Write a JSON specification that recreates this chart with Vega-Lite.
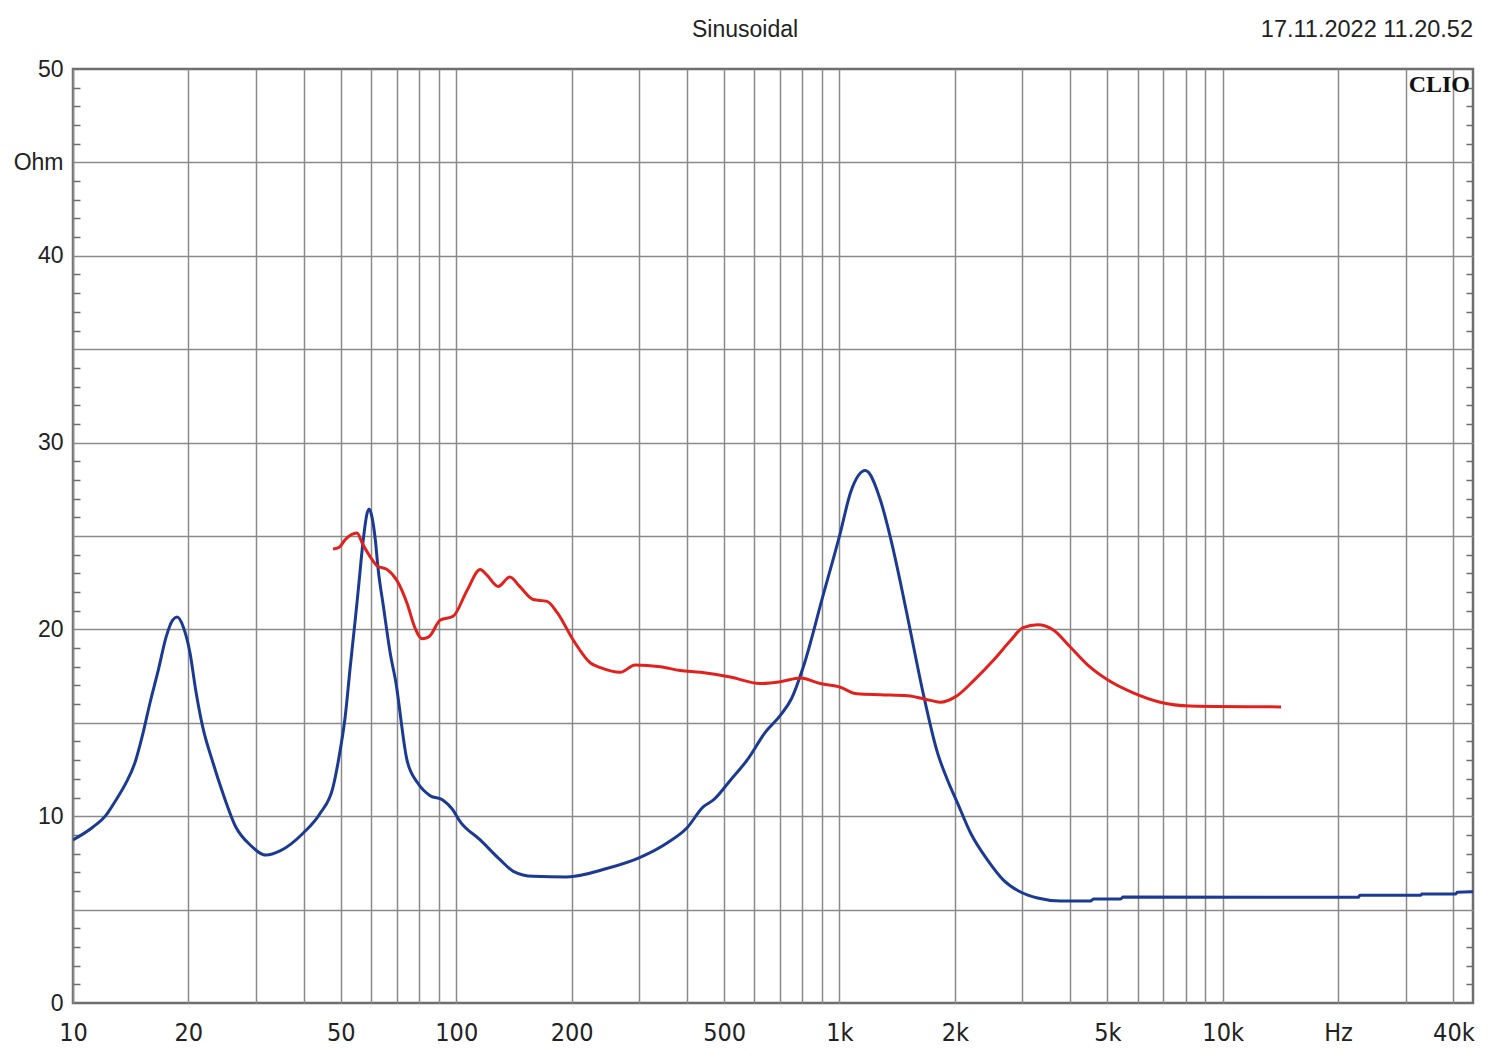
{
  "$schema": "https://vega.github.io/schema/vega-lite/v6.json",
  "width": 1400,
  "height": 934,
  "autosize": {"type": "none"},
  "padding": {"left": 73, "top": 69, "right": 27, "bottom": 60},
  "background": "white",
  "config": {
    "view": {"stroke": "#6e6e6e", "strokeWidth": 2.5},
    "font": "Liberation Sans"
  },
  "datasets": {
    "imp": [
      {"s": "blue", "f": 10, "z": 8.73},
      {"s": "blue", "f": 11.28, "z": 9.42},
      {"s": "blue", "f": 12.2, "z": 10.06},
      {"s": "blue", "f": 12.95, "z": 10.87},
      {"s": "blue", "f": 13.75, "z": 11.78},
      {"s": "blue", "f": 14.5, "z": 12.85},
      {"s": "blue", "f": 15.23, "z": 14.45},
      {"s": "blue", "f": 15.88, "z": 16.06},
      {"s": "blue", "f": 16.7, "z": 17.83},
      {"s": "blue", "f": 17.5, "z": 19.6},
      {"s": "blue", "f": 18.2, "z": 20.5},
      {"s": "blue", "f": 18.7, "z": 20.66},
      {"s": "blue", "f": 19.4, "z": 20.13},
      {"s": "blue", "f": 20.2, "z": 18.74},
      {"s": "blue", "f": 20.9, "z": 16.76},
      {"s": "blue", "f": 21.8, "z": 14.78},
      {"s": "blue", "f": 23.2, "z": 12.85},
      {"s": "blue", "f": 24.6, "z": 11.24},
      {"s": "blue", "f": 26.6, "z": 9.42},
      {"s": "blue", "f": 29, "z": 8.46},
      {"s": "blue", "f": 31.9, "z": 7.92},
      {"s": "blue", "f": 34.7, "z": 8.14},
      {"s": "blue", "f": 39.9, "z": 9.1},
      {"s": "blue", "f": 44.2, "z": 10.17},
      {"s": "blue", "f": 47.7, "z": 11.56},
      {"s": "blue", "f": 49.8, "z": 13.54},
      {"s": "blue", "f": 51.3, "z": 15.3},
      {"s": "blue", "f": 52.9, "z": 18.0},
      {"s": "blue", "f": 54.5, "z": 20.5},
      {"s": "blue", "f": 55.5, "z": 22.1},
      {"s": "blue", "f": 57.2, "z": 24.8},
      {"s": "blue", "f": 58.5, "z": 26.2},
      {"s": "blue", "f": 59.3, "z": 26.45},
      {"s": "blue", "f": 60.3, "z": 26.0},
      {"s": "blue", "f": 61.5, "z": 24.8},
      {"s": "blue", "f": 62.5, "z": 23.3},
      {"s": "blue", "f": 64.6, "z": 21.2},
      {"s": "blue", "f": 67.3, "z": 18.7},
      {"s": "blue", "f": 69.4, "z": 17.3},
      {"s": "blue", "f": 74.4, "z": 13.0},
      {"s": "blue", "f": 79.2, "z": 11.8},
      {"s": "blue", "f": 85.5, "z": 11.1},
      {"s": "blue", "f": 92.2, "z": 10.87},
      {"s": "blue", "f": 97.5, "z": 10.4},
      {"s": "blue", "f": 102.5, "z": 9.7},
      {"s": "blue", "f": 115.5, "z": 8.73},
      {"s": "blue", "f": 130.3, "z": 7.66},
      {"s": "blue", "f": 140.9, "z": 7.05},
      {"s": "blue", "f": 158.8, "z": 6.78},
      {"s": "blue", "f": 194, "z": 6.75},
      {"s": "blue", "f": 247, "z": 7.2},
      {"s": "blue", "f": 302, "z": 7.8},
      {"s": "blue", "f": 355, "z": 8.57},
      {"s": "blue", "f": 401, "z": 9.4},
      {"s": "blue", "f": 441, "z": 10.5},
      {"s": "blue", "f": 469, "z": 10.87},
      {"s": "blue", "f": 520, "z": 11.94},
      {"s": "blue", "f": 574, "z": 13.0},
      {"s": "blue", "f": 641, "z": 14.5},
      {"s": "blue", "f": 701, "z": 15.4},
      {"s": "blue", "f": 750, "z": 16.3},
      {"s": "blue", "f": 805, "z": 18.0},
      {"s": "blue", "f": 903, "z": 21.7},
      {"s": "blue", "f": 1006, "z": 25.2},
      {"s": "blue", "f": 1068, "z": 27.3},
      {"s": "blue", "f": 1169, "z": 28.5},
      {"s": "blue", "f": 1280, "z": 26.9},
      {"s": "blue", "f": 1359, "z": 24.9},
      {"s": "blue", "f": 1443, "z": 22.5},
      {"s": "blue", "f": 1532, "z": 19.9},
      {"s": "blue", "f": 1657, "z": 16.5},
      {"s": "blue", "f": 1802, "z": 13.4},
      {"s": "blue", "f": 1914, "z": 11.94},
      {"s": "blue", "f": 2033, "z": 10.7},
      {"s": "blue", "f": 2199, "z": 9.1},
      {"s": "blue", "f": 2433, "z": 7.66},
      {"s": "blue", "f": 2679, "z": 6.58},
      {"s": "blue", "f": 2969, "z": 5.94},
      {"s": "blue", "f": 3289, "z": 5.62},
      {"s": "blue", "f": 3776, "z": 5.46},
      {"s": "blue", "f": 4522, "z": 5.46},
      {"s": "blue", "f": 4600, "z": 5.57},
      {"s": "blue", "f": 5416, "z": 5.57},
      {"s": "blue", "f": 5500, "z": 5.67},
      {"s": "blue", "f": 22600, "z": 5.66},
      {"s": "blue", "f": 22800, "z": 5.77},
      {"s": "blue", "f": 32900, "z": 5.77},
      {"s": "blue", "f": 33100, "z": 5.84},
      {"s": "blue", "f": 40600, "z": 5.84},
      {"s": "blue", "f": 40900, "z": 5.93},
      {"s": "blue", "f": 45000, "z": 5.95},
      {"s": "red", "f": 47.7, "z": 24.3},
      {"s": "red", "f": 49.5, "z": 24.4},
      {"s": "red", "f": 51.3, "z": 24.8},
      {"s": "red", "f": 55.1, "z": 25.16},
      {"s": "red", "f": 56.9, "z": 24.6},
      {"s": "red", "f": 59.6, "z": 23.9},
      {"s": "red", "f": 62.2, "z": 23.4},
      {"s": "red", "f": 66.1, "z": 23.2},
      {"s": "red", "f": 70.1, "z": 22.6},
      {"s": "red", "f": 74.4, "z": 21.4},
      {"s": "red", "f": 78, "z": 20.1},
      {"s": "red", "f": 81.5, "z": 19.5},
      {"s": "red", "f": 84.8, "z": 19.6},
      {"s": "red", "f": 90.9, "z": 20.5},
      {"s": "red", "f": 98.1, "z": 20.7},
      {"s": "red", "f": 106.8, "z": 22.1},
      {"s": "red", "f": 115.5, "z": 23.2},
      {"s": "red", "f": 120.3, "z": 22.9},
      {"s": "red", "f": 128.7, "z": 22.3},
      {"s": "red", "f": 138, "z": 22.8},
      {"s": "red", "f": 146.4, "z": 22.3},
      {"s": "red", "f": 158.8, "z": 21.6},
      {"s": "red", "f": 172.6, "z": 21.5},
      {"s": "red", "f": 183.5, "z": 20.9},
      {"s": "red", "f": 202.4, "z": 19.4},
      {"s": "red", "f": 224, "z": 18.2},
      {"s": "red", "f": 238, "z": 17.95},
      {"s": "red", "f": 268, "z": 17.7},
      {"s": "red", "f": 293, "z": 18.1},
      {"s": "red", "f": 341, "z": 18.0},
      {"s": "red", "f": 384, "z": 17.8},
      {"s": "red", "f": 434, "z": 17.7},
      {"s": "red", "f": 519, "z": 17.45},
      {"s": "red", "f": 620, "z": 17.1},
      {"s": "red", "f": 701, "z": 17.2},
      {"s": "red", "f": 791, "z": 17.4},
      {"s": "red", "f": 891, "z": 17.1},
      {"s": "red", "f": 1005, "z": 16.9},
      {"s": "red", "f": 1112, "z": 16.55},
      {"s": "red", "f": 1280, "z": 16.5},
      {"s": "red", "f": 1506, "z": 16.45},
      {"s": "red", "f": 1729, "z": 16.2},
      {"s": "red", "f": 1836, "z": 16.1},
      {"s": "red", "f": 2010, "z": 16.4},
      {"s": "red", "f": 2250, "z": 17.3},
      {"s": "red", "f": 2536, "z": 18.4},
      {"s": "red", "f": 2795, "z": 19.4},
      {"s": "red", "f": 3016, "z": 20.1},
      {"s": "red", "f": 3289, "z": 20.25},
      {"s": "red", "f": 3615, "z": 19.97},
      {"s": "red", "f": 4003, "z": 19.06},
      {"s": "red", "f": 4441, "z": 18.1},
      {"s": "red", "f": 5008, "z": 17.3},
      {"s": "red", "f": 5843, "z": 16.6},
      {"s": "red", "f": 6870, "z": 16.1},
      {"s": "red", "f": 8218, "z": 15.9},
      {"s": "red", "f": 14200, "z": 15.85}
    ],
    "labels": [
      {"stamp": "17.11.2022 11.20.52", "brand": "CLIO", "head": "Sinusoidal"}
    ]
  },
  "resolve": {"scale": {"y": "shared", "x": "shared"}, "axis": {"y": "independent"}},
  "layer": [
    {
      "data": {"name": "imp"},
      "transform": [{"filter": "datum.s === 'blue'"}],
      "mark": {"type": "line", "color": "#1b3a93", "strokeWidth": 3, "clip": true, "interpolate": "monotone"},
      "encoding": {
        "x": {
          "field": "f",
          "type": "quantitative",
          "scale": {"type": "log", "domain": [10, 45000], "nice": false},
          "axis": {
            "title": null,
            "orient": "bottom",
            "domain": false,
            "ticks": false,
            "grid": true,
            "gridColor": "#8a8a8a",
            "gridWidth": 1.5,
            "values": [10, 20, 30, 40, 50, 60, 70, 80, 90, 100, 200, 300, 400, 500, 600, 700, 800, 900, 1000, 2000, 3000, 4000, 5000, 6000, 7000, 8000, 9000, 10000, 20000, 30000, 40000],
            "labelExpr": "datum.value == 10 ? '10' : datum.value == 20 ? '20' : datum.value == 50 ? '50' : datum.value == 100 ? '100' : datum.value == 200 ? '200' : datum.value == 500 ? '500' : datum.value == 1000 ? '1k' : datum.value == 2000 ? '2k' : datum.value == 5000 ? '5k' : datum.value == 10000 ? '10k' : datum.value == 20000 ? 'Hz' : datum.value == 40000 ? '40k' : ''",
            "labelFlush": false,
            "labelOverlap": false,
            "labelFont": "DejaVu Sans Condensed, Liberation Sans, sans-serif",
            "labelFontSize": 25,
            "labelColor": "#222222",
            "labelPadding": 17,
            "labelBaseline": "top"
          }
        },
        "y": {
          "field": "z",
          "type": "quantitative",
          "scale": {"domain": [0, 50], "nice": false},
          "axis": {
            "title": null,
            "orient": "left",
            "domain": false,
            "values": [0,1,2,3,4,5,6,7,8,9,10,11,12,13,14,15,16,17,18,19,20,21,22,23,24,25,26,27,28,29,30,31,32,33,34,35,36,37,38,39,40,41,42,43,44,45,46,47,48,49,50],
            "grid": true,
            "gridColor": "#8a8a8a",
            "gridWidth": 1.5,
            "gridOpacity": {"condition": {"test": "datum.value % 5 === 0 && datum.value > 0 && datum.value < 50", "value": 1}, "value": 0},
            "ticks": true,
            "tickSize": -7,
            "tickColor": "#6e6e6e",
            "tickWidth": 1.5,
            "tickOpacity": {"condition": {"test": "datum.value % 5 === 0", "value": 0}, "value": 1},
            "labelExpr": "datum.value % 10 === 0 ? datum.value + '' : datum.value === 45 ? 'Ohm' : ''",
            "labelOverlap": false,
            "labelFont": "Liberation Sans",
            "labelFontSize": 23,
            "labelColor": "#222222",
            "labelPadding": 17
          }
        }
      }
    },
    {
      "data": {"name": "imp"},
      "transform": [{"filter": "datum.s === 'red'"}],
      "mark": {"type": "line", "color": "#e3211c", "strokeWidth": 3, "clip": true, "interpolate": "monotone"},
      "encoding": {
        "x": {
          "field": "f",
          "type": "quantitative",
          "scale": {"type": "log", "domain": [10, 45000], "nice": false}
        },
        "y": {
          "field": "z",
          "type": "quantitative",
          "scale": {"domain": [0, 50], "nice": false},
          "axis": {
            "title": null,
            "orient": "right",
            "domain": false,
            "grid": false,
            "values": [0,1,2,3,4,5,6,7,8,9,10,11,12,13,14,15,16,17,18,19,20,21,22,23,24,25,26,27,28,29,30,31,32,33,34,35,36,37,38,39,40,41,42,43,44,45,46,47,48,49,50],
            "ticks": true,
            "tickSize": -7,
            "tickColor": "#6e6e6e",
            "tickWidth": 1.5,
            "tickOpacity": {"condition": {"test": "datum.value % 5 === 0", "value": 0}, "value": 1},
            "labels": false
          }
        }
      }
    },
    {
      "data": {"name": "labels"},
      "mark": {"type": "text", "align": "right", "baseline": "alphabetic", "font": "Liberation Sans", "fontSize": 23.5, "color": "#222222"},
      "encoding": {
        "x": {"datum": 45000, "type": "quantitative"},
        "y": {"datum": 51.72, "type": "quantitative", "axis": null},
        "text": {"field": "stamp"}
      }
    },
    {
      "data": {"name": "labels"},
      "mark": {"type": "text", "align": "center", "baseline": "alphabetic", "font": "Liberation Sans", "fontSize": 23, "color": "#222222"},
      "encoding": {
        "x": {"datum": 567, "type": "quantitative"},
        "y": {"datum": 51.72, "type": "quantitative", "axis": null},
        "text": {"field": "head"}
      }
    },
    {
      "data": {"name": "labels"},
      "mark": {"type": "text", "align": "right", "baseline": "top", "dx": -3, "dy": 4, "font": "Liberation Serif", "fontWeight": "bold", "fontSize": 24, "color": "#111111"},
      "encoding": {
        "x": {"datum": 45000, "type": "quantitative"},
        "y": {"datum": 50, "type": "quantitative", "axis": null},
        "text": {"field": "brand"}
      }
    }
  ]
}
